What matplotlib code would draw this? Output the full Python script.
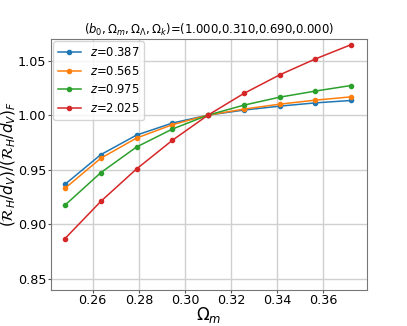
import matplotlib
matplotlib.use("Agg")
import matplotlib.pyplot as plt

omega_m = [0.248, 0.2635, 0.279, 0.2945, 0.31, 0.3255, 0.341, 0.3565, 0.372]
labels = ["0.387", "0.565", "0.975", "2.025"]
r_z0387 = [0.9367, 0.9638, 0.9817, 0.9927, 1.0, 1.0046, 1.0082, 1.0112, 1.0134]
r_z0565 = [0.9330, 0.9605, 0.9790, 0.9912, 1.0, 1.0055, 1.0100, 1.0137, 1.0167]
r_z0975 = [0.9176, 0.9473, 0.9708, 0.9872, 1.0, 1.0091, 1.0164, 1.0220, 1.0271]
r_z2025 = [0.8870, 0.9210, 0.9507, 0.9769, 1.0, 1.0198, 1.0368, 1.0514, 1.0645]
series = [r_z0387, r_z0565, r_z0975, r_z2025]
colors = ["#1f77b4", "#ff7f0e", "#2ca02c", "#d62728"]

fig = plt.figure(figsize=(4.07, 3.26), dpi=100)
ax = fig.add_axes([51/407, 1-289.5/326, (366.7-51)/407, (289.5-39)/326])
for lab, ys, c in zip(labels, series, colors):
    ax.plot(omega_m, ys, marker='o', markersize=3, linewidth=1.1, color=c, label=r"$z$=" + lab)
ax.set_xlim(0.2419, 0.3788)
ax.set_ylim(0.8403, 1.0697)
ax.set_xticks([0.26, 0.28, 0.30, 0.32, 0.34, 0.36])
ax.set_yticks([0.85, 0.90, 0.95, 1.00, 1.05])
ax.tick_params(labelsize=9.2, length=2.2, pad=1.2, color='#555555')
ax.grid(True, color='#d0d0d0', linewidth=1)
ax.set_xlabel(r"$\Omega_m$", fontsize=12, va='top')
ax.xaxis.set_label_coords(0.5, -(305 - 289.5) / 250.5)
ax.set_ylabel(r"$(\mathcal{R}_H/d_V)/(\mathcal{R}_H/d_V)_F$", fontsize=11)
ax.yaxis.set_label_coords((17.5 - 51) / 315.7, 0.5)
ax.set_title(r"$(b_0,\Omega_m,\Omega_\Lambda,\Omega_k)$=(1.000,0.310,0.690,0.000)", fontsize=8.4, pad=4)
ax.legend(loc='upper left', fontsize=8.3, handlelength=2, borderaxespad=0.2)
for s in ax.spines.values():
    s.set_color('#777777')
fig.savefig("out.png", dpi=100)
